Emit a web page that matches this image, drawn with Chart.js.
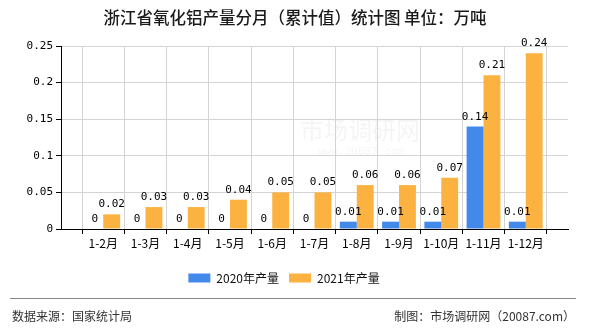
<!DOCTYPE html>
<html>
<head>
<meta charset="utf-8">
<script src="https://cdn.jsdelivr.net/npm/chart.js@4.4.0/dist/chart.umd.min.js"></script>
<style>
  body { margin: 0; background: #fff; }
  #wrap { width: 590px; height: 330px; }
</style>
</head>
<body>
<div id="wrap"><canvas id="zjChart" width="590" height="330"></canvas></div>
<script>
// 浙江省氧化铝产量分月（累计值）
const months = ['1-2月', '1-3月', '1-4月', '1-5月', '1-6月', '1-7月', '1-8月', '1-9月', '1-10月', '1-11月', '1-12月'];
const output2020 = [0, 0, 0, 0, 0, 0, 0.01, 0.01, 0.01, 0.14, 0.01];
const output2021 = [0.02, 0.03, 0.03, 0.04, 0.05, 0.05, 0.06, 0.06, 0.07, 0.21, 0.24];
const yTicks = [0, 0.05, 0.1, 0.15, 0.2, 0.25];

const titleText = '浙江省氧化铝产量分月（累计值）统计图 单位：万吨';
const sourceText = '数据来源：国家统计局';
const makerText = '制图：市场调研网（20087.com）';

const cjk = '"Noto Sans CJK SC", "Noto Sans", sans-serif';
const mono = '"DejaVu Sans Mono", "Liberation Mono", monospace';

// empty slot on both ends, like the original axis
const labels = [''].concat(months, ['']);
const pad = arr => [null].concat(arr, [null]);

const fmt = v => String(+Number(v).toFixed(2));

const barLabels = {
  id: 'barLabels',
  afterDatasetsDraw(chart) {
    const ctx = chart.ctx;
    ctx.save();
    ctx.font = '11px ' + mono;
    ctx.fillStyle = '#000';
    ctx.textAlign = 'center';
    ctx.textBaseline = 'alphabetic';
    chart.data.datasets.forEach((ds, i) => {
      const meta = chart.getDatasetMeta(i);
      meta.data.forEach((bar, j) => {
        const v = ds.data[j];
        if (v === null || v === undefined) return;
        ctx.fillText(fmt(v), bar.x, bar.y - 7);
      });
    });
    ctx.restore();
  }
};

const decorations = {
  id: 'decorations',
  beforeDraw(chart) {
    const ctx = chart.ctx;
    ctx.save();
    ctx.fillStyle = '#fff';
    ctx.fillRect(0, 0, chart.width, chart.height);
    // faint watermark
    ctx.fillStyle = 'rgba(0,0,0,0.045)';
    ctx.font = '24px ' + cjk;
    ctx.textAlign = 'left';
    ctx.textBaseline = 'middle';
    ctx.fillText('市场调研网', 300, 130);
    ctx.font = '11px ' + mono;
    ctx.fillText('www.20087.com', 318, 152);
    ctx.restore();
  },
  afterDraw(chart) {
    const ctx = chart.ctx;
    ctx.save();
    ctx.fillStyle = '#1a1a1a';
    ctx.font = '500 16.5px ' + cjk;
    ctx.textAlign = 'center';
    ctx.textBaseline = 'middle';
    ctx.fillText(titleText, 295, 18);

    ctx.strokeStyle = '#888';
    ctx.lineWidth = 1;
    ctx.beginPath();
    ctx.moveTo(10, 298.5);
    ctx.lineTo(576, 298.5);
    ctx.stroke();

    ctx.fillStyle = '#333';
    ctx.font = '12px ' + cjk;
    ctx.textAlign = 'left';
    ctx.fillText(sourceText, 12, 316);
    ctx.textAlign = 'right';
    ctx.fillText(makerText, 575, 316);
    ctx.restore();
  }
};

const ctx = document.getElementById('zjChart').getContext('2d');
const chart = new Chart(ctx, {
  type: 'bar',
  data: {
    labels: labels,
    datasets: [
      {
        label: '2020年产量',
        data: pad(output2020),
        backgroundColor: '#4389ea',
        categoryPercentage: 0.8,
        barPercentage: 1.0
      },
      {
        label: '2021年产量',
        data: pad(output2021),
        backgroundColor: '#fbb241',
        categoryPercentage: 0.8,
        barPercentage: 1.0
      }
    ]
  },
  options: {
    responsive: false,
    animation: false,
    devicePixelRatio: 1,
    layout: { padding: { top: 46, right: 22, bottom: 36, left: 0 } },
    plugins: {
      title: { display: false },
      tooltip: { enabled: false },
      legend: {
        display: true,
        position: 'bottom',
        labels: {
          boxWidth: 22,
          boxHeight: 9,
          padding: 10,
          color: '#111',
          font: { size: 12, family: cjk }
        }
      }
    },
    scales: {
      x: {
        offset: false,
        grid: { color: '#d4d4d4', tickColor: '#000', tickLength: 5, drawOnChartArea: true },
        border: { color: '#000', width: 1 },
        ticks: {
          autoSkip: false,
          maxRotation: 0,
          padding: 2,
          color: '#000',
          font: { size: 12, family: cjk }
        },
        afterFit(scale) { scale.height = 33; }
      },
      y: {
        min: 0,
        max: 0.25,
        afterBuildTicks(scale) { scale.ticks = yTicks.map(v => ({ value: v })); },
        grid: { color: '#d4d4d4', tickColor: '#000', tickLength: 5 },
        border: { color: '#000', width: 1 },
        ticks: {
          padding: 3,
          color: '#000',
          font: { size: 11, family: mono },
          callback: v => fmt(v)
        },
        afterFit(scale) { scale.width = 61; }
      }
    }
  },
  plugins: [decorations, barLabels]
});
</script>
</body>
</html>
